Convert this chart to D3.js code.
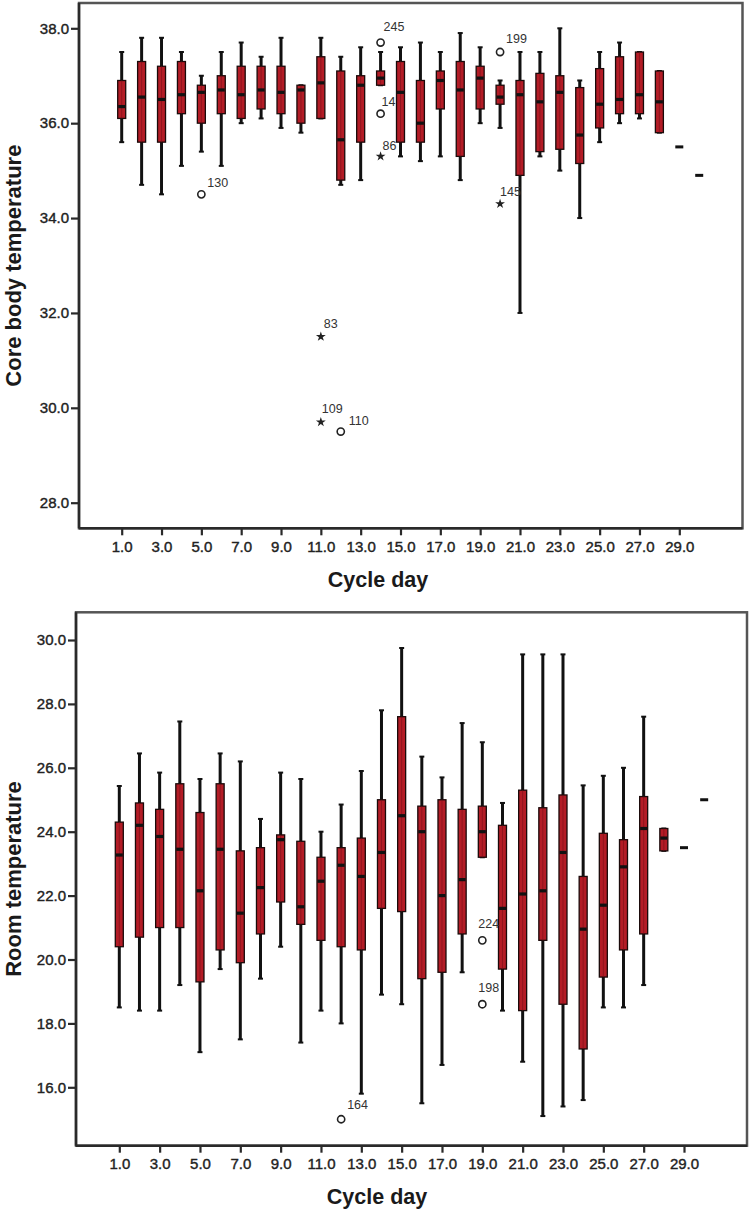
<!DOCTYPE html>
<html>
<head>
<meta charset="utf-8">
<script src="https://cdn.jsdelivr.net/npm/d3@7"></script>
<style>
  html, body { margin: 0; padding: 0; background: #fff; }
  svg { display: block; }
  text { font-family: "Liberation Sans", Arial, sans-serif; }
</style>
</head>
<body>
<svg id="chart" width="750" height="1213"></svg>
<script>
// ---------- DATA ----------
const days = [1,2,3,4,5,6,7,8,9,10,11,12,13,14,15,16,17,18,19,20,21,22,23,24,25,26,27,28,29,30];
const xTickValues = [1,3,5,7,9,11,13,15,17,19,21,23,25,27,29];
const coreTicks = [28,30,32,34,36,38];
const roomTicks = [16,18,20,22,24,26,28,30];

// Core body temperature (per cycle day)
const coreLow  = [35.6,34.7,34.5,35.1,35.4,35.1,36.0,36.1,35.9,35.8,36.1,34.7,34.8,36.8,35.3,35.2,35.3,34.8,36.0,35.9,32.0,35.3,35.0,34.0,35.6,36.0,36.1,35.8,35.5,34.9];
const coreQ1   = [36.1,35.6,35.6,36.2,36.0,36.2,36.1,36.3,36.2,36.0,36.1,34.8,35.6,36.8,35.6,35.6,36.3,35.3,36.3,36.4,34.9,35.4,35.45,35.15,35.9,36.2,36.2,35.8,35.5,34.9];
const coreMed  = [36.35,36.55,36.5,36.6,36.65,36.7,36.6,36.7,36.65,36.7,36.85,35.65,36.8,36.95,36.65,36.0,36.9,36.7,36.95,36.55,36.6,36.45,36.65,35.75,36.4,36.5,36.6,36.45,35.5,34.9];
const coreQ3   = [36.9,37.3,37.2,37.3,36.8,37.0,37.2,37.2,37.2,36.8,37.4,37.1,37.0,37.1,37.3,36.9,37.1,37.3,37.2,36.8,36.9,37.05,37.0,36.75,37.15,37.4,37.5,37.1,35.5,34.9];
const coreHigh = [37.5,37.8,37.8,37.5,37.0,37.5,37.7,37.4,37.8,36.8,37.8,37.4,37.6,37.5,37.6,37.7,37.5,37.9,37.6,36.9,37.5,37.5,38.0,36.9,37.5,37.7,37.5,37.1,35.5,34.9];
const coreOutDay   = [5,11,11,12,14,14,14,20,20];
const coreOutVal   = [34.5,31.5,29.7,29.5,37.7,36.2,35.3,37.5,34.3];
const coreOutShape = ["o","*","*","o","o","o","*","o","*"];
const coreOutLabel = ["130","83","109","110","245","14","86","199","145"];

// Room temperature (per cycle day)
const roomLow  = [18.5,18.4,18.4,19.2,17.1,19.7,17.5,19.4,20.4,17.4,18.4,18.0,15.8,18.9,18.6,15.5,16.7,19.6,23.2,18.4,16.8,15.1,15.4,15.6,18.5,18.5,19.2,23.4,23.5,25.0];
const roomQ1   = [20.4,20.7,21.0,21.0,19.3,20.3,19.9,20.8,21.8,21.1,20.6,20.4,20.3,21.6,21.5,19.4,19.6,20.8,23.2,19.7,18.4,20.6,18.6,17.2,19.45,20.3,20.8,23.4,23.5,25.0];
const roomMed  = [23.27,24.2,23.85,23.45,22.15,23.45,21.45,22.25,23.75,21.65,22.45,22.95,22.6,23.35,24.5,24.0,22.0,22.5,24.0,21.6,22.05,22.15,23.35,20.95,21.7,22.9,24.1,23.8,23.5,25.0];
const roomQ3   = [24.3,24.9,24.7,25.5,24.6,25.5,23.4,23.5,23.9,23.7,23.2,23.5,23.8,25.0,27.6,24.8,25.0,24.7,24.8,24.2,25.3,24.75,25.15,22.6,23.95,23.75,25.1,24.1,23.5,25.0];
const roomHigh = [25.43,26.45,25.85,27.45,25.65,26.45,26.2,24.4,25.85,25.65,24.0,24.85,25.9,27.8,29.75,26.35,25.7,27.4,26.8,24.9,29.55,29.55,29.55,25.45,25.75,26.0,27.6,24.1,23.5,25.0];
const roomOutDay   = [12,19,19];
const roomOutVal   = [15.0,20.6,18.6];
const roomOutShape = ["o","o","o"];
const roomOutLabel = ["164","224","198"];

// ---------- LAYOUT (styles / positions) ----------
const labelOffsets = {
  "130":[6,-7], "83":[3,-9], "109":[1,-9], "110":[8,-7], "245":[3,-12],
  "14":[1,-8], "86":[2,-6], "199":[6,-9], "145":[0,-8],
  "164":[6,-10], "224":[-4,-12], "198":[-4,-12]
};
const BOX_FILL = "#b31c26";

const svg = d3.select("#chart");

function panel(cfg) {
  const g = svg.append("g");
  const x = d3.scaleLinear().domain([1, 29]).range(cfg.xRange);
  const y = d3.scaleLinear().domain(cfg.yDomain).range(cfg.yRange);
  const f = cfg.frame; // [left, top, right, bottom]

  // frame
  g.append("rect")
    .attr("x", f[0]).attr("y", f[1])
    .attr("width", f[2] - f[0]).attr("height", f[3] - f[1])
    .attr("fill", "none").attr("stroke", "#555").attr("stroke-width", 2.5);
  g.append("line").attr("x1", f[0]).attr("x2", f[0]).attr("y1", f[1]).attr("y2", f[3])
    .attr("stroke", "#2a2a2a").attr("stroke-width", 2.5);
  g.append("line").attr("x1", f[0]).attr("x2", f[2]).attr("y1", f[3]).attr("y2", f[3])
    .attr("stroke", "#2a2a2a").attr("stroke-width", 2.5);

  // axes
  const yAxis = g.append("g").attr("transform", `translate(${f[0]},0)`)
    .call(d3.axisLeft(y).tickValues(cfg.yTicks).tickFormat(d3.format(".1f")).tickSize(8).tickPadding(2));
  const xAxis = g.append("g").attr("transform", `translate(0,${f[3]})`)
    .call(d3.axisBottom(x).tickValues(xTickValues).tickFormat(d3.format(".1f")).tickSize(7).tickPadding(6));
  [yAxis, xAxis].forEach(a => {
    a.select(".domain").remove();
    a.selectAll(".tick line").attr("stroke", "#2a2a2a").attr("stroke-width", 2.2);
    a.selectAll(".tick text").attr("fill", "#222").attr("font-size", 15)
      .attr("stroke", "#222").attr("stroke-width", 0.4)
      .style("font-family", "'Liberation Sans', Arial, sans-serif");
  });

  // boxes
  const rows = days.map((d, i) => ({
    d, lo: cfg.low[i], q1: cfg.q1[i], med: cfg.med[i], q3: cfg.q3[i], hi: cfg.high[i]
  }));
  const bw = 8;
  rows.forEach(r => {
    const cx = x(r.d);
    if (r.q1 === r.q3 && r.lo === r.hi) {
      g.append("rect").attr("x", cx - 4).attr("y", y(r.med) - 1.5)
        .attr("width", 8).attr("height", 3).attr("fill", "#111");
      return;
    }
    // whisker
    g.append("line").attr("x1", cx).attr("x2", cx).attr("y1", y(r.lo)).attr("y2", y(r.hi))
      .attr("stroke", "#111").attr("stroke-width", 3);
    [r.lo, r.hi].forEach(v => {
      g.append("line").attr("x1", cx - 2.5).attr("x2", cx + 2.5).attr("y1", y(v)).attr("y2", y(v))
        .attr("stroke", "#111").attr("stroke-width", 2);
    });
    // box
    g.append("rect").attr("x", cx - bw / 2).attr("y", y(r.q3))
      .attr("width", bw).attr("height", Math.max(1, y(r.q1) - y(r.q3)))
      .attr("fill", BOX_FILL).attr("stroke", "#1a0a0a").attr("stroke-width", 1.3);
    g.append("line").attr("x1", cx).attr("x2", cx).attr("y1", y(r.q3)).attr("y2", y(r.q1))
      .attr("stroke", "#7a1018").attr("stroke-width", 1).attr("opacity", 0.6);
    // median
    g.append("rect").attr("x", cx - 3.5).attr("y", y(r.med) - 1.6)
      .attr("width", 7).attr("height", 3.2).attr("fill", "#111");
  });

  // outliers
  const star = d3.symbol().type(d3.symbolStar).size(30);
  cfg.outDay.forEach((d, i) => {
    const cx = x(d), cy = y(cfg.outVal[i]);
    if (cfg.outShape[i] === "o") {
      g.append("circle").attr("cx", cx).attr("cy", cy).attr("r", 3.6)
        .attr("fill", "#fff").attr("stroke", "#222").attr("stroke-width", 1.6);
    } else {
      g.append("path").attr("d", star()).attr("transform", `translate(${cx},${cy})`).attr("fill", "#222");
    }
    const off = labelOffsets[cfg.outLabel[i]] || [4, -8];
    g.append("text").attr("x", cx + off[0]).attr("y", cy + off[1])
      .attr("font-size", 12.5).attr("fill", "#333").text(cfg.outLabel[i]);
  });

  // titles
  g.append("text")
    .attr("transform", `translate(21,${(f[1] + f[3]) / 2}) rotate(-90)`)
    .attr("text-anchor", "middle").attr("font-size", 22).attr("font-weight", "bold")
    .attr("fill", "#1a1a1a").text(cfg.yTitle);
  g.append("text")
    .attr("x", cfg.xTitlePos[0]).attr("y", cfg.xTitlePos[1])
    .attr("text-anchor", "middle").attr("font-size", 21.5).attr("font-weight", "bold")
    .attr("fill", "#1a1a1a").text("Cycle day");
}

panel({
  xRange: [121.7, 679.3],
  yDomain: [28, 38], yRange: [502.7, 28.3],
  frame: [79, 3, 742.5, 528.3],
  yTicks: coreTicks,
  low: coreLow, q1: coreQ1, med: coreMed, q3: coreQ3, high: coreHigh,
  outDay: coreOutDay, outVal: coreOutVal, outShape: coreOutShape, outLabel: coreOutLabel,
  yTitle: "Core body temperature",
  xTitlePos: [378, 587]
});

panel({
  xRange: [119.3, 684],
  yDomain: [16, 30], yRange: [1087.3, 640],
  frame: [76, 612.3, 747, 1145.7],
  yTicks: roomTicks,
  low: roomLow, q1: roomQ1, med: roomMed, q3: roomQ3, high: roomHigh,
  outDay: roomOutDay, outVal: roomOutVal, outShape: roomOutShape, outLabel: roomOutLabel,
  yTitle: "Room temperature",
  xTitlePos: [377, 1204]
});
</script>
</body>
</html>
